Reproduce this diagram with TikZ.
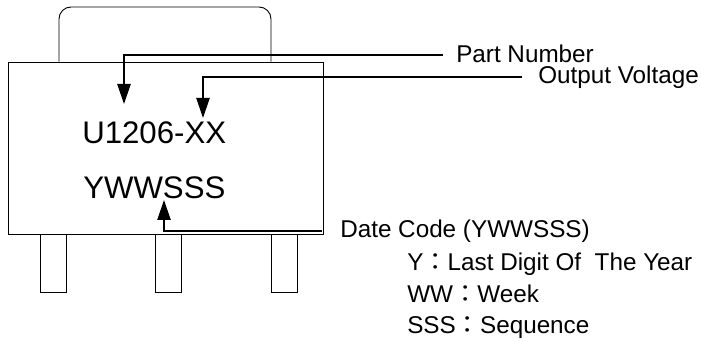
\documentclass[tikz,border=0pt]{standalone}
\usepackage{fontspec}
\setmainfont{Liberation Sans}
\newfontfamily\cjk{Noto Sans CJK TC}
\usetikzlibrary{positioning,arrows.meta}

\begin{document}
\begin{tikzpicture}[
  x=0.75pt, y=-0.75pt,
  % Package outline
  package/.style={rectangle, draw, line width=0.7pt, inner sep=0pt,
    minimum width=236.25pt, minimum height=129pt},
  % Leads under the package
  pin/.style={rectangle, draw, line width=0.7pt, inner sep=0pt,
    minimum width=19.5pt, minimum height=43.5pt, anchor=north},
  % Text on the package
  marking/.style={anchor=base west, inner sep=0pt, font=\fontsize{23.4pt}{26pt}\selectfont},
  % Text beside the package
  callout/.style={anchor=base west, inner sep=0pt, font=\fontsize{18.2pt}{20pt}\selectfont},
  % Leader lines with solid heads
  leader/.style={draw, line width=1pt, -{Triangle[length=15pt, width=10pt]}},
]
  \useasboundingbox (0,0) rectangle (701,342);

  % === Package ===
  \node[package] (body) at (165.5,148) {};
  \coordinate (capleft) at (59,7);
  \coordinate (capright) at (271,7);
  \draw[line width=0.7pt, rounded corners=9pt]
    (capleft |- body.north) -- (capleft) -- (capright) -- (capright |- body.north);

  % === Leads ===
  \node[pin] (pinA) at (53,234) {};
  \node[pin] (pinB) at (168,234) {};
  \node[pin] (pinC) at (284,234) {};

  % === Markings ===
  \node[marking] (part) at (82,144) {U1206-XX};
  \node[marking] (code) at (83,199) {YWWSSS};

  % === Labels ===
  \node[callout] (number) at (456,63) {Part Number};
  \node[callout] (voltage) at (538,84) {Output Voltage};
  \node[callout] (date) at (340,238) {Date Code (YWWSSS)};
  \node[callout] (year) at (407,271) {Y{\cjk：}Last Digit Of~~The Year};
  \node[callout] (week) at (407,303) {WW{\cjk：}Week};
  \node[callout] (seq) at (407,334) {SSS{\cjk：}Sequence};

  % === Leaders ===
  \coordinate (numberend) at (443,55);
  \coordinate (voltageend) at (522,77);
  \coordinate (dateend) at (322,231);
  \coordinate (parttip) at (124,104);
  \coordinate (volttip) at (203,118);
  \coordinate (codetip) at (164,200);
  \path[leader] (numberend) -| (parttip);
  \path[leader] (voltageend) -| (volttip);
  \path[leader] (dateend) -| (codetip);
\end{tikzpicture}
\end{document}
